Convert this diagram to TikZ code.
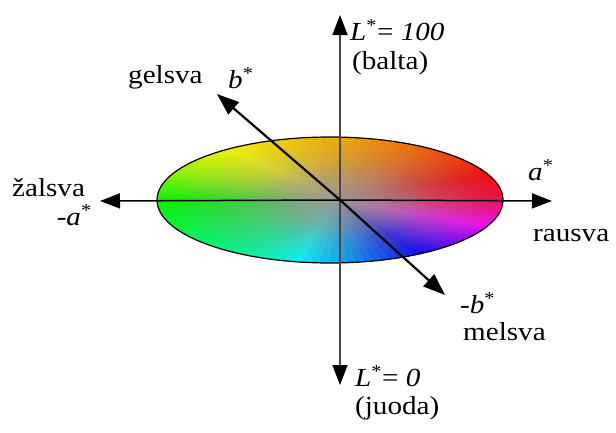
\documentclass[tikz,border=0pt]{standalone}
\usepackage{graphicx}
\usepackage{fontspec}
\setmainfont{Liberation Serif}
\usetikzlibrary{arrows.meta,fadings}
\tikzfading[name=cfade, inner color=transparent!12, outer color=transparent!100]
\tikzfading[name=cfadeb, inner color=transparent!40, outer color=transparent!100]
\definecolor{cgray}{RGB}{155,148,148}
\definecolor{vaxis}{RGB}{70,70,70}
\newcommand\hstretch[1]{\scalebox{1.12}[1]{#1}}
\begin{document}
\begin{tikzpicture}[x=1pt,y=1pt,
  font=\fontsize{26}{29}\selectfont,
  lbl/.style={inner sep=0pt},
  axtip/.style={-{Triangle[length=20pt,width=15pt,black]}},
  ax/.style={line width=1.5pt, axtip},
  diag/.style={line width=2.2pt, -{Triangle[length=22pt,width=16pt]}}]
\useasboundingbox (0,0) rectangle (616,-432);
\coordinate (E) at (330,-200);
\coordinate (EC) at (338,-200);
% colour ellipse
\begin{scope}
\clip (E) ellipse [x radius=173, y radius=63];
\foreach \ta/\ha/\hb in {0/345/365,30/365/385,60/385/402,90/402/416,120/416/440,150/440/480,180/480/498,210/498/520,240/520/560,270/560/605,300/605/655,330/655/705}{
  \foreach \j in {0,...,9}{
    \pgfmathsetmacro\ang{\ta+3*\j}
    \pgfmathsetmacro\angb{\ta+3*\j+3.6}
    \pgfmathsetmacro\hue{mod(\ha+(\hb-\ha)*\j/10,360)}
    \definecolor{wc}{Hsb}{\hue,1,0.97}
    \fill[wc] (EC) -- ([shift={(EC)}]\ang:230pt and 84pt) -- ([shift={(EC)}]\angb:230pt and 84pt) -- cycle;
  }
}
\fill[cgray, path fading=cfade] (EC) ellipse [x radius=185, y radius=68];
\fill[cgray, path fading=cfadeb] (EC) ellipse [x radius=95, y radius=38];
\end{scope}
\draw[line width=1.2pt] (E) ellipse [x radius=173, y radius=63];
% axes
\coordinate (O) at (340,-200);
\coordinate (T) at (340,-15);
\coordinate (B) at (340,-385);
\coordinate (L) at (100,-201);
\coordinate (R) at (552,-201);
\coordinate (BP) at (217,-94);
\coordinate (BM) at (445,-295);
\draw[ax, vaxis] (O) -- (T);
\draw[ax, vaxis] (O) -- (B);
\draw[ax] (O) -- (L);
\draw[ax] (O) -- (R);
\draw[diag] (O) -- (BP);
\draw[diag] (O) -- (BM);
% labels
\node[lbl, anchor=west] (l100) at (350,-30) {\hstretch{\textit{L}\textsuperscript{*}= \textit{100}}};
\node[lbl, anchor=west] (bal) at (352,-63) {\hstretch{(balta)}};
\node[lbl, anchor=west] (gel) at (128,-77) {\hstretch{gelsva}};
\node[lbl, anchor=west] (bp) at (228,-78) {\hstretch{\textit{b}\textsuperscript{*}}};
\node[lbl, anchor=west] (zal) at (12,-188) {\hstretch{žalsva}};
\node[lbl, anchor=east] (am) at (92,-215) {\hstretch{-\textit{a}\textsuperscript{*}}};
\node[lbl, anchor=west] (ap) at (528,-170) {\hstretch{\textit{a}\textsuperscript{*}}};
\node[lbl, anchor=west] (rau) at (533,-235) {\hstretch{rausva}};
\node[lbl, anchor=west] (bm) at (460,-303) {\hstretch{-\textit{b}\textsuperscript{*}}};
\node[lbl, anchor=west] (mel) at (463,-332) {\hstretch{melsva}};
\node[lbl, anchor=west] (l0) at (355,-376) {\hstretch{\textit{L}\textsuperscript{*}= \textit{0}}};
\node[lbl, anchor=west] (juo) at (355,-408) {\hstretch{(juoda)}};
\end{tikzpicture}
\end{document}
